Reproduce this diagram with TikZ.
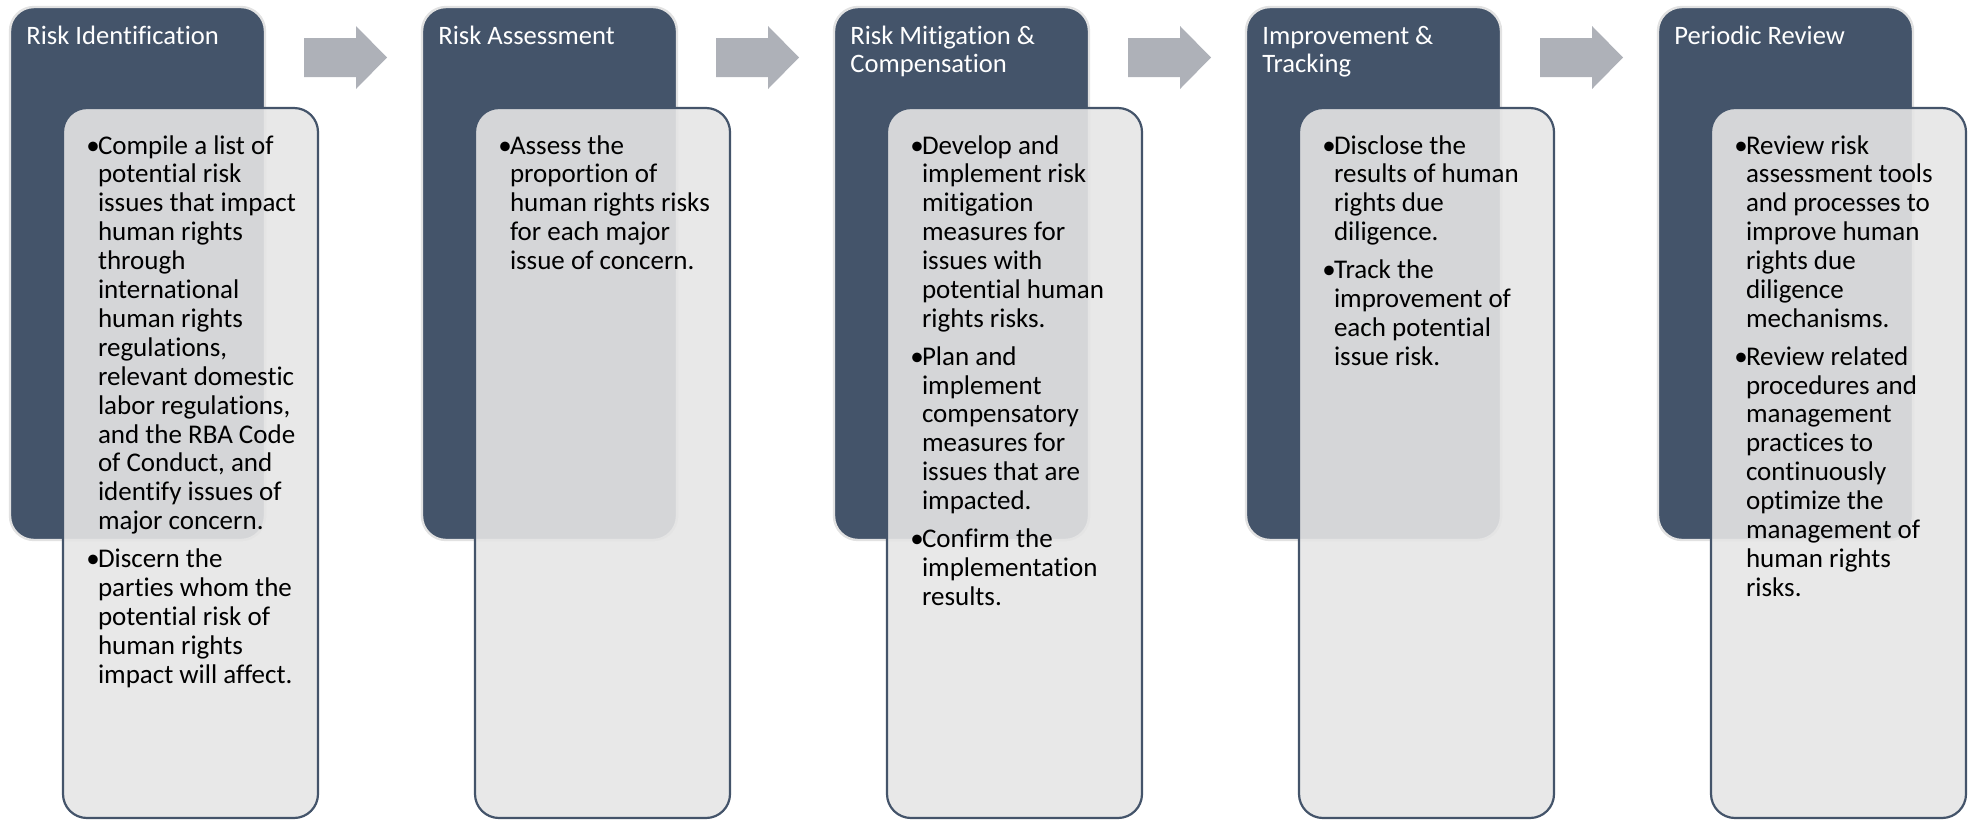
\documentclass[tikz,border=0pt]{standalone}
\usepackage{fontspec}
\setmainfont{Carlito}[Ligatures=NoCommon]
\definecolor{darkbox}{HTML}{44546A}
\definecolor{ringc}{HTML}{E2E2E2}
\definecolor{lightbox}{HTML}{E5E5E5}
\definecolor{arrowc}{HTML}{AEB1B8}
\newcommand{\bu}{\makebox[5.8pt][l]{•}}
\newcommand{\procblock}[4]{%
  \begin{scope}[xshift=#2*0.5pt]
    \path[darkcard] (10,7) rectangle (265,540);
    \path[lightcard] (63,108) rectangle (318,818);
    \node[titletext] (title#1) at (26,44) {\begin{tabular}[t]{@{}l@{}}#3\end{tabular}};
    \node[bodytext] (body#1) at (86,154) {\begin{tabular}[t]{@{}l@{}l@{}}#4\end{tabular}};
  \end{scope}}
\newcommand{\flowarrow}[1]{%
  \begin{scope}[xshift=#1*0.5pt]
    \path[flow] (304,38) -- (356,38) -- (356,26) -- (387,57.5) -- (356,89) -- (356,77) -- (304,77) -- cycle;
  \end{scope}}
\begin{document}
\begin{tikzpicture}[x=0.5pt,y=-0.5pt,
  darkcard/.style={fill=darkbox, draw=ringc, line width=1.2pt, rounded corners=12pt},
  lightcard/.style={fill=lightbox, fill opacity=0.9, draw=darkbox, line width=1.1pt, rounded corners=12pt},
  titletext/.style={anchor=base west, inner sep=0pt, text=white, font=\fontsize{13.3pt}{14.45pt}\selectfont},
  bodytext/.style={anchor=base west, inner sep=0pt, text=black, font=\fontsize{13.5pt}{14.45pt}\selectfont},
  flow/.style={fill=arrowc}]
\useasboundingbox (0,0) rectangle (1968,820);
\procblock{1}{0}{Risk Identification}{%
\bu & Compile a list of\\ & potential risk\\ & issues that impact\\ & human rights\\ & through\\ & international\\ & human rights\\ & regulations,\\ & relevant domestic\\ & labor regulations,\\ & and the RBA Code\\ & of Conduct, and\\ & identify issues of\\ & major concern.\\[4.4pt]
\bu & Discern the\\ & parties whom the\\ & potential risk of\\ & human rights\\ & impact will affect.}
\procblock{2}{412}{Risk Assessment}{%
\bu & Assess the\\ & proportion of\\ & human rights risks\\ & for each major\\ & issue of concern.}
\procblock{3}{824}{Risk Mitigation \&\\Compensation}{%
\bu & Develop and\\ & implement risk\\ & mitigation\\ & measures for\\ & issues with\\ & potential human\\ & rights risks.\\[4.4pt]
\bu & Plan and\\ & implement\\ & compensatory\\ & measures for\\ & issues that are\\ & impacted.\\[4.4pt]
\bu & Confirm the\\ & implementation\\ & results.}
\procblock{4}{1236}{Improvement \&\\Tracking}{%
\bu & Disclose the\\ & results of human\\ & rights due\\ & diligence.\\[4.4pt]
\bu & Track the\\ & improvement of\\ & each potential\\ & issue risk.}
\procblock{5}{1648}{Periodic Review}{%
\bu & Review risk\\ & assessment tools\\ & and processes to\\ & improve human\\ & rights due\\ & diligence\\ & mechanisms.\\[4.4pt]
\bu & Review related\\ & procedures and\\ & management\\ & practices to\\ & continuously\\ & optimize the\\ & management of\\ & human rights\\ & risks.}
\flowarrow{0}
\flowarrow{412}
\flowarrow{824}
\flowarrow{1236}
\end{tikzpicture}
\end{document}
